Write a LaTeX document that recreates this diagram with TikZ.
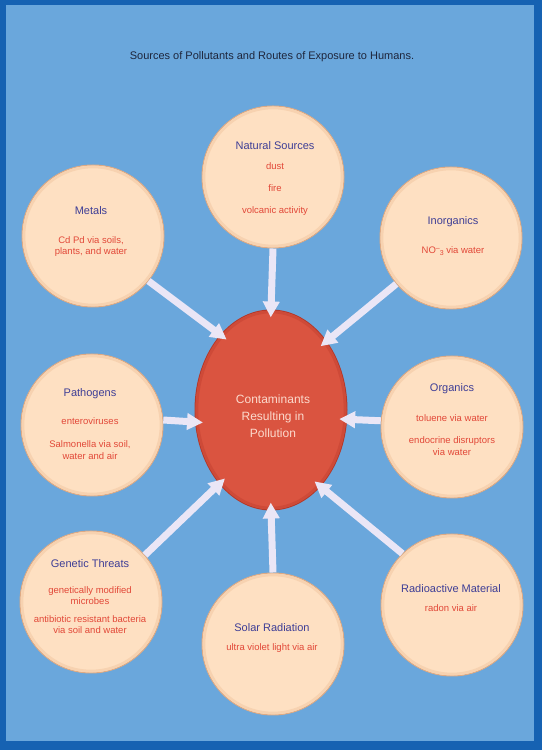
\documentclass[tikz,border=0pt]{standalone}
\usepackage{fontspec}
\setmainfont{Liberation Sans}
\usetikzlibrary{arrows.meta,shapes.geometric}
\definecolor{bgblue}{RGB}{106,167,220}
\definecolor{frameblue}{RGB}{22,98,178}
\definecolor{peachA}{RGB}{254,224,194}
\definecolor{peachB}{RGB}{247,210,176}
\definecolor{peachC}{RGB}{222,170,132}
\definecolor{redA}{RGB}{218,84,64}
\definecolor{redB}{RGB}{206,74,56}
\definecolor{redC}{RGB}{180,58,44}
\definecolor{headblue}{RGB}{62,62,150}
\definecolor{itemred}{RGB}{226,72,56}
\definecolor{arrowfill}{RGB}{234,230,246}
\definecolor{centext}{RGB}{252,218,205}
\definecolor{titlecol}{RGB}{30,38,60}
\newcommand{\srchead}[1]{{\fontsize{11}{13}\selectfont\color{headblue}#1}}
\begin{document}
\begin{tikzpicture}[x=1pt,y=1pt,
  src/.style={circle, minimum size=142pt, inner sep=0pt, fill=peachA, draw=peachC, line width=1pt},
  rim/.style={draw=peachB, line width=2.6pt},
  txt/.style={align=center, text=itemred, font=\fontsize{9.5}{11}\selectfont, inner sep=0pt},
  flow/.style={line width=7pt, draw=arrowfill, -{Triangle[width=16pt,length=16pt]}, shorten >=-8pt}]
\useasboundingbox (0,0) rectangle (542,750);
\fill[frameblue] (0,0) rectangle (542,750);
\fill[bgblue] (6,9) rectangle (534,745);
\node[font=\fontsize{11}{13}\selectfont, text=titlecol] (title) at (272,693) {Sources of Pollutants and Routes of Exposure to Humans.};
% source circles
\node[src] (nat) at (273,573) {};
\node[src] (met) at (93,514) {};
\node[src] (ino) at (451,512) {};
\node[src] (pat) at (92,325) {};
\node[src] (org) at (452,323) {};
\node[src] (gen) at (91,148) {};
\node[src] (sol) at (273,106) {};
\node[src] (rad) at (452,145) {};
% soft inner rims
\foreach \c in {nat,met,ino,pat,org,gen,sol,rad}{
  \draw[rim] (\c.center) circle[radius=69pt];
}
% centre
\node[ellipse, minimum width=152pt, minimum height=200pt, inner sep=0pt, fill=redA, draw=redC, line width=1pt] (cen) at (271,340) {};
\draw[draw=redB, line width=2.6pt] (cen.center) ellipse[x radius=74pt, y radius=98pt];
% texts
\node[txt] (natT) at (275,571) {\srchead{Natural Sources}\\[9pt] dust\\[11pt] fire\\[11pt] volcanic activity};
\node[txt] (metT) at (91,518.5) {\srchead{Metals}\\[18pt] Cd Pd via soils,\\ plants, and water};
\node[txt] (inoT) at (453,513.5) {\srchead{Inorganics}\\[18pt] NO\raisebox{3pt}{\scriptsize --}\raisebox{-2pt}{\scriptsize 3} via water};
\node[txt] (patT) at (90,325.5) {\srchead{Pathogens}\\[17pt] enteroviruses\\[12pt] Salmonella via soil,\\[1pt] water and air};
\node[txt] (orgT) at (452,330) {\srchead{Organics}\\[19pt] toluene via water\\[11pt] endocrine disruptors\\[1pt] via water};
\node[txt] (genT) at (90,153) {\srchead{Genetic Threats}\\[15pt] genetically modified\\ microbes\\[7pt] antibiotic resistant bacteria\\ via soil and water};
\node[txt] (solT) at (272,111.5) {\srchead{Solar Radiation}\\[8pt] ultra violet light via air};
\node[txt] (radT) at (451,151.5) {\srchead{Radioactive Material}\\[8pt] radon via air};
\node[align=center, text=centext, font=\fontsize{12}{13}\selectfont, inner sep=0pt] (cenT) at (273,334) {Contaminants\\[4pt] Resulting in\\[4pt] Pollution};
% arrows
\draw[flow] (nat.south) -- (cen.north);
\draw[flow] (met.-39) -- (cen.124);
\draw[flow] (ino.220) -- (cen.51);
\draw[flow] (pat.4) -- (cen.189);
\draw[flow] (org.175) -- (cen.-7);
\draw[flow] (gen.41) -- (cen.235);
\draw[flow] (sol.north) -- (cen.south);
\draw[flow] (rad.134) -- (cen.-57);
\end{tikzpicture}
\end{document}
